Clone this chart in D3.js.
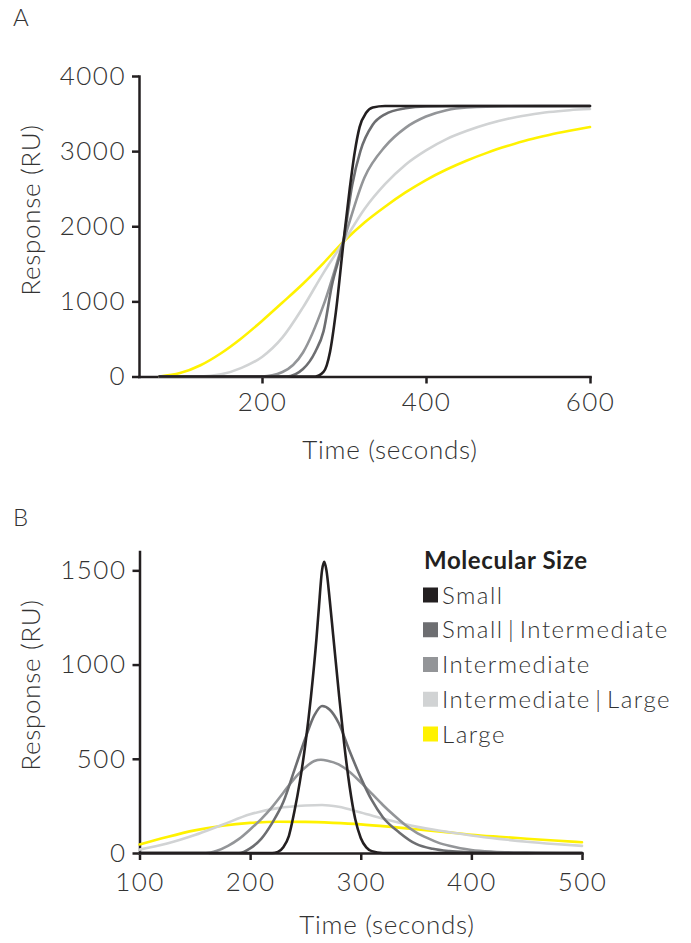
<!DOCTYPE html>
<html>
<head>
<meta charset="utf-8">
<script src="https://cdn.jsdelivr.net/npm/d3@7"></script>
<style>
    html, body { margin: 0; padding: 0; background: #fff; }
    svg { display: block; font-family: Lato, "Open Sans", sans-serif; }
    .axis path, .axis line { stroke: #231f20; stroke-width: 2.5; }
    .axis text { font-size: 26px; fill: #333; font-weight: 300; letter-spacing: 1.5px; font-family: Lato, "Open Sans", sans-serif; }
    .title { font-size: 26px; fill: #333; font-weight: 300; letter-spacing: 0.7px; }
    .panel-letter { font-size: 24px; fill: #333; font-weight: 300; }
    .legend-head { font-size: 24px; fill: #231f20; font-weight: 700; letter-spacing: 0.6px; }
    .legend-item { font-size: 24px; fill: #333; font-weight: 300; letter-spacing: 1.5px; }
    .curve { fill: none; stroke-width: 2.6; stroke-linejoin: round; stroke-linecap: round; }
</style>
</head>
<body>
<svg id="svg-chart" width="691" height="943"></svg>
<script>
"use strict";

const seriesNames = ["Small", "Small\u2009|\u2009Intermediate", "Intermediate", "Intermediate\u2009|\u2009Large", "Large"];
const seriesColors = ["#231f20", "#6d6e71", "#939598", "#d1d3d4", "#fff200"];

// panel A: binding curves, [time (s), response (RU)]
const bindSmall = [[75, 0], [265, 0], [275, 60], [283, 330], [290, 850], [300, 1850], [307, 2500], [313, 2980],
    [319, 3320], [327, 3510], [335, 3580], [350, 3600], [600, 3600]];
const bindSmallInt = [[75, 0], [230, 0], [250, 100], [265, 330], [275, 600], [285, 1200], [300, 1850], [310, 2550],
    [320, 3000], [335, 3350], [350, 3490], [375, 3570], [400, 3595], [450, 3600], [600, 3600]];
const bindInt = [[75, 0], [200, 0], [225, 60], [250, 320], [275, 950], [300, 1820], [325, 2650], [350, 3060],
    [375, 3310], [400, 3460], [425, 3545], [450, 3580], [500, 3597], [600, 3600]];
const bindIntLarge = [[75, 0], [125, 0], [150, 28], [175, 115], [200, 260], [225, 520], [250, 920], [275, 1380],
    [300, 1800], [325, 2230], [350, 2560], [375, 2820], [400, 3010], [425, 3160], [450, 3270], [475, 3360],
    [500, 3430], [525, 3480], [550, 3520], [575, 3545], [600, 3560]];
const bindLarge = [[75, 0], [100, 45], [125, 150], [150, 310], [175, 510], [200, 740], [225, 985], [250, 1235],
    [275, 1510], [300, 1800], [325, 2050], [350, 2260], [375, 2450], [400, 2615], [425, 2755], [450, 2875],
    [475, 2980], [500, 3070], [525, 3150], [550, 3215], [575, 3270], [600, 3320]];

// panel B: peaks, [time (s), response (RU)]
const peakSmall = [[100, 0], [220, 0], [225, 5], [230, 30], [235, 90], [240, 220], [245, 380], [250, 580],
    [255, 830], [260, 1140], [262, 1290], [265, 1500], [267, 1545], [269, 1500], [272, 1340], [275, 1160],
    [280, 860], [285, 580], [290, 350], [295, 180], [300, 80], [305, 30], [310, 10], [320, 0], [500, 0]];
const peakSmallInt = [[100, 0], [190, 0], [200, 25], [210, 75], [220, 160], [230, 270], [240, 440], [250, 610],
    [258, 730], [265, 780], [272, 760], [280, 690], [290, 540], [300, 400], [310, 280], [320, 190], [335, 108],
    [350, 48], [365, 22], [380, 10], [400, 4], [430, 0], [500, 0]];
const peakInt = [[100, 0], [160, 0], [170, 12], [180, 38], [190, 75], [200, 125], [210, 180], [220, 245],
    [230, 320], [240, 395], [250, 455], [258, 488], [264, 495], [270, 490], [280, 470], [290, 430], [300, 375],
    [310, 315], [320, 255], [330, 200], [340, 150], [350, 110], [360, 80], [370, 55], [380, 38], [390, 25],
    [400, 16], [420, 7], [450, 2], [480, 0], [500, 0]];
const peakIntLarge = [[100, 18], [125, 50], [150, 95], [175, 150], [200, 205], [225, 238], [250, 252],
    [265, 255], [280, 245], [300, 215], [325, 175], [350, 140], [375, 115], [400, 93], [425, 75], [450, 60],
    [475, 48], [500, 38]];
const peakLarge = [[100, 45], [125, 85], [150, 120], [175, 145], [200, 160], [225, 166], [250, 165],
    [275, 160], [300, 152], [325, 140], [350, 126], [375, 112], [400, 97], [425, 86], [450, 76], [475, 66],
    [500, 57]];

const bindTicksX = [200, 400, 600];
const bindTicksY = [0, 1000, 2000, 3000, 4000];
const peakTicksX = [100, 200, 300, 400, 500];
const peakTicksY = [0, 500, 1000, 1500];

/**
 * @class
 */
class SizePanel {

    /**
     * @constructor
     * @param svg {*}
     * @param opts {{letter: string, letterY: number, series: Array, xDomain: number[], xRange: number[],
     *   yDomain: number[], yRange: number[], xTicks: number[], yTicks: number[], xPad: number,
     *   xTitleX: number, xTitleY: number, yTitleY: number}}
     */
    constructor(svg, opts) {
        this.svg = svg;
        this.opts = opts;
        this.x = d3.scaleLinear().domain(opts.xDomain).range(opts.xRange);
        this.y = d3.scaleLinear().domain(opts.yDomain).range(opts.yRange);
    }

    draw() {
        const o = this.opts;
        const svg = this.svg;
        const x = this.x;
        const y = this.y;
        const fmt = d3.format("d");

        svg.append("text").attr("class", "panel-letter")
            .attr("x", 13).attr("y", o.letterY).text(o.letter);

        svg.append("g").attr("class", "axis")
            .attr("transform", `translate(0,${o.yRange[0]})`)
            .call(d3.axisBottom(x).tickValues(o.xTicks).tickFormat(fmt)
                .tickSize(7).tickPadding(o.xPad).tickSizeOuter(0));

        svg.append("g").attr("class", "axis")
            .attr("transform", `translate(${o.xRange[0]},0)`)
            .call(d3.axisLeft(y).tickValues(o.yTicks).tickFormat(fmt)
                .tickSize(7).tickPadding(6).tickSizeOuter(0));

        svg.selectAll(".axis .domain").attr("stroke-linecap", "square");

        const line = d3.line()
            .x(d => x(d[0]))
            .y(d => y(d[1]))
            .curve(d3.curveMonotoneX);

        // largest drawn first so the black curve sits on top
        const order = d3.range(o.series.length).reverse();
        svg.append("g").selectAll("path")
            .data(order)
            .join("path")
            .attr("class", "curve")
            .attr("stroke", i => seriesColors[i])
            .attr("d", i => line(o.series[i]));

        svg.append("text").attr("class", "title")
            .attr("x", o.xTitleX).attr("y", o.xTitleY)
            .attr("text-anchor", "middle").text("Time (seconds)");

        svg.append("text").attr("class", "title")
            .attr("transform", `translate(40,${o.yTitleY}) rotate(-90)`)
            .attr("text-anchor", "middle").text("Response (RU)");
    }
}

const svg = d3.select("#svg-chart");

new SizePanel(svg, {
    letter: "A", letterY: 26,
    series: [bindSmall, bindSmallInt, bindInt, bindIntLarge, bindLarge],
    xDomain: [50, 600], xRange: [139, 590],
    yDomain: [0, 4000], yRange: [376.5, 76],
    xTicks: bindTicksX, yTicks: bindTicksY, xPad: 9,
    xTitleX: 390, xTitleY: 459, yTitleY: 210
}).draw();

new SizePanel(svg, {
    letter: "B", letterY: 526,
    series: [peakSmall, peakSmallInt, peakInt, peakIntLarge, peakLarge],
    xDomain: [100, 500], xRange: [139.5, 582],
    yDomain: [0, 1600], yRange: [853, 551.5],
    xTicks: peakTicksX, yTicks: peakTicksY, xPad: 13,
    xTitleX: 387, xTitleY: 934, yTitleY: 685
}).draw();

// legend
const legend = svg.append("g").attr("transform", "translate(423,0)");
legend.append("text").attr("class", "legend-head").attr("x", 1).attr("y", 569).text("Molecular Size");
const rows = legend.selectAll("g.row")
    .data(seriesNames)
    .join("g")
    .attr("class", "row")
    .attr("transform", (d, i) => `translate(0,${595 + i * 34.75})`);
rows.append("rect").attr("x", 0).attr("y", -7.5).attr("width", 15).attr("height", 15)
    .attr("fill", (d, i) => seriesColors[i]);
rows.append("text").attr("class", "legend-item").attr("x", 19).attr("dy", "0.36em").text(d => d);
</script>
</body>
</html>
